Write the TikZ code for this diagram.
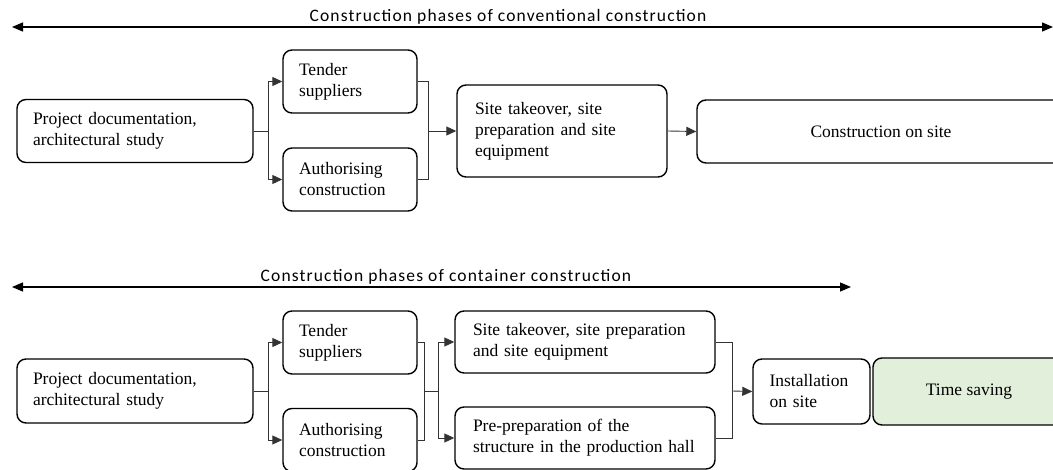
\documentclass[tikz,border=0pt]{standalone}
\usepackage{fontspec}
\setmainfont{Liberation Serif}
\newfontfamily\labfont[LetterSpace=6.5]{Carlito}
\usetikzlibrary{arrows.meta}
\begin{document}
\begin{tikzpicture}[x=1pt,y=-1pt,
  box/.style={draw, line width=1.4pt, rounded corners=9pt, inner xsep=16pt, inner ysep=0pt,
    align=left, font=\fontsize{17.5}{21}\selectfont, anchor=center},
  cbox/.style={box, align=center},
  conn/.style={line width=0.9pt, draw=black!80},
  arr/.style={conn, -{Triangle[length=10pt,width=9pt]}},
  phase/.style={line width=1.4pt, {Triangle[length=11pt,width=9pt]}-{Triangle[length=11pt,width=9pt]}},
  lab/.style={font=\labfont\fontsize{17.5}{19}\selectfont, inner sep=0pt}
]
\useasboundingbox (0,0) rectangle (1053,470);
\clip (0,0) rectangle (1053,470);

% ---------- top: conventional ----------
\coordinate (p1l) at (12,27);
\coordinate (p1r) at (1053,27);
\draw[phase] (p1l) -- (p1r);
\node[lab] (l1) at (508,17) {Construction phases of conventional construction};

\node[box, minimum width=236pt, minimum height=63pt, text width=204pt] (pd1) at (135,131)
  {Project documentation,\\architectural study};
\node[box, minimum width=134pt, minimum height=63pt, text width=102pt] (ts1) at (350,81.5)
  {Tender\\suppliers};
\node[box, minimum width=134pt, minimum height=63pt, text width=102pt] (au1) at (350,179.5)
  {Authorising\\construction};
\node[box, minimum width=210pt, minimum height=92pt, text width=174pt, inner xsep=18pt] (st1) at (562,131)
  {Site takeover, site\\preparation and site\\equipment};
\node[cbox, minimum width=368pt, minimum height=63pt] (cs1) at (881,131.5)
  {Construction on site};

\coordinate (s1) at (268,131);
\coordinate (j1) at (428,131);
\draw[conn] (pd1.east) -- (s1);
\draw[arr] (s1) |- (ts1.west);
\draw[arr] (s1) |- (au1.west);
\draw[conn] (ts1.east) -| (j1);
\draw[conn] (au1.east) -| (j1);
\draw[arr] (j1) -- (st1.west);
\draw[arr] (st1.east) -- (cs1.west);

% ---------- bottom: container ----------
\coordinate (p2l) at (12,287);
\coordinate (p2r) at (851,287);
\draw[phase] (p2l) -- (p2r);
\node[lab] (l2) at (446,277) {Construction phases of container construction};

\node[box, minimum width=236pt, minimum height=64pt, text width=204pt] (pd2) at (135,391)
  {Project documentation,\\architectural study};
\node[box, minimum width=134pt, minimum height=63pt, text width=102pt] (ts2) at (350,342.5)
  {Tender\\suppliers};
\node[box, minimum width=134pt, minimum height=63pt, text width=102pt] (au2) at (350,440)
  {Authorising\\construction};
\node[box, minimum width=260pt, minimum height=62pt, text width=224pt, inner xsep=18pt] (st2) at (585,342)
  {Site takeover, site preparation\\and site equipment};
\node[box, minimum width=260pt, minimum height=62pt, text width=224pt, inner xsep=18pt] (pp2) at (585,438)
  {Pre-preparation of the\\structure in the production hall};
\node[box, minimum width=117pt, minimum height=65pt, text width=84pt, inner xsep=16.5pt] (in2) at (811.5,391.5)
  {Installation\\on site};
\node[cbox, minimum width=192pt, minimum height=67pt, fill={rgb,255:red,226;green,239;blue,218}] (tm2) at (969,391.5)
  {Time saving};

\coordinate (s2) at (268,391);
\coordinate (j2) at (424,391);
\coordinate (s3) at (438,391);
\coordinate (j3) at (732,391);
\draw[conn] (pd2.east) -- (s2);
\draw[arr] (s2) |- (ts2.west);
\draw[arr] (s2) |- (au2.west);
\draw[conn] (ts2.east) -| (j2);
\draw[conn] (au2.east) -| (j2);
\draw[conn] (j2) -- (s3);
\draw[arr] (s3) |- (st2.west);
\draw[arr] (s3) |- (pp2.west);
\draw[conn] (st2.east) -| (j3);
\draw[conn] (pp2.east) -| (j3);
\draw[arr] (j3) -- (in2.west);
\end{tikzpicture}
\end{document}
